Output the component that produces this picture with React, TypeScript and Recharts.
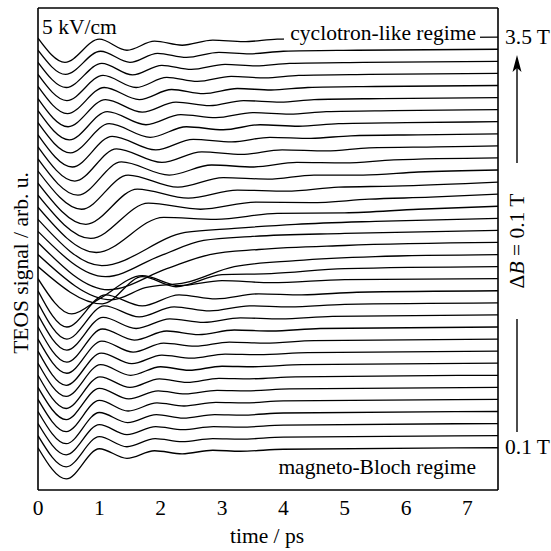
import React from "react";
import { LineChart, Line, XAxis, YAxis } from "recharts";

// magnetic field of each trace, bottom to top
const fieldsT = [
  0.1, 0.2, 0.3, 0.4, 0.5, 0.6, 0.7, 0.8, 0.9, 1.0, 1.1, 1.2, 1.3, 1.4, 1.5, 1.6, 1.7, 1.8,
  1.9, 2.0, 2.1, 2.2, 2.3, 2.4, 2.5, 2.6, 2.7, 2.8, 2.9, 3.0, 3.1, 3.2, 3.3, 3.4, 3.5,
];

const xTicks = [0, 1, 2, 3, 4, 5, 6, 7];

// vertical offset between neighbouring traces (arb. u.)
const offsetStep = 12;

// [time ps, signal], same order as fieldsT
const traces: [number, number][][] = [
  [[0, 0], [0.46, -31], [1.0, -1], [1.45, -10.5], [1.9, -3], [2.35, -6], [2.85, -2.5], [3.3, -3.5], [4, -1.5], [7.5, 0]],
  [[0, 0], [0.46, -31], [1.0, -1], [1.45, -11], [1.91, -3], [2.35, -6], [2.85, -3], [3.3, -3.5], [4, -1.5], [7.5, 0]],
  [[0, 0], [0.46, -31], [1.0, -1], [1.45, -11], [1.92, -3], [2.36, -6], [2.86, -3], [3.3, -3.5], [4, -1.5], [7.5, 0]],
  [[0, 0], [0.46, -32], [1.0, -1], [1.46, -11], [1.93, -3], [2.37, -6.5], [2.88, -3], [3.33, -3.5], [4, -1.5], [7.5, 0]],
  [[0, 0], [0.46, -32], [1.0, -1], [1.47, -11.5], [1.94, -3.5], [2.38, -6.5], [2.9, -3], [3.36, -3.5], [4, -1.5], [7.5, 0]],
  [[0, 0], [0.46, -32], [1.0, -1], [1.48, -11.5], [1.96, -3.5], [2.4, -6.5], [2.92, -3], [3.4, -3.5], [4.1, -1.5], [7.5, 0]],
  [[0, 0], [0.46, -33], [1.01, -1.5], [1.5, -12], [1.98, -3.5], [2.43, -7], [2.95, -3], [3.45, -3.5], [4.2, -1.5], [7.5, 0]],
  [[0, 0], [0.46, -33], [1.02, -1.5], [1.51, -12], [2.0, -3.5], [2.46, -7], [3.0, -3], [3.52, -3.5], [4.3, -1.5], [7.5, 0]],
  [[0, 0], [0.46, -34], [1.03, -2], [1.53, -12.5], [2.02, -4], [2.5, -7], [3.05, -3], [3.6, -3.5], [4.4, -1.5], [7.5, 0]],
  [[0, 0], [0.47, -34], [1.04, -2], [1.55, -13], [2.05, -4], [2.56, -7], [3.12, -3], [3.7, -4], [4.5, -1.5], [7.5, 0]],
  [[0, 0], [0.47, -35], [1.05, -2], [1.57, -13], [2.1, -4], [2.62, -7.5], [3.2, -3], [3.8, -4], [4.6, -1.5], [7.5, 0]],
  [[0, 0], [0.47, -35], [1.06, -2.5], [1.6, -13.5], [2.15, -4], [2.7, -7.5], [3.3, -3], [3.95, -4], [4.8, -1.5], [7.5, 0]],
  [[0, 0], [0.47, -36], [1.08, -3], [1.65, -14], [2.22, -4], [2.8, -8], [3.45, -3], [4.1, -4], [5, -1.5], [7.5, 0]],
  [[0, 0], [0.47, -36], [1.1, -4], [1.7, -15], [2.3, -4], [2.9, -8], [3.6, -3], [4.3, -4], [5.2, -1.5], [7.5, 0]],
  [[0, 0], [0.55, -35], [1.0, -20], [1.7, 3], [2.3, -7], [3.0, -2], [3.8, -4], [5, -1], [7.5, 0]],
  [[0, 0], [1.05, -37], [1.7, -10], [2.25, -20], [3.0, -8], [3.8, -7], [5, -2], [7.5, 0]],
  [[0, 0], [1.2, -45], [1.75, -33], [2.4, -28], [3.2, -12], [4.2, -6], [5.5, -2], [7.5, 0]],
  [[0, 0], [1.15, -47], [2.1, -26], [2.8, -12], [3.6, -7], [5, -3], [7.5, 0]],
  [[0, -1], [1.1, -46], [2.0, -25], [2.7, -10], [3.5, -6], [5, -3], [7.5, 0]],
  [[0, -1], [1.04, -47], [2.4, -14], [3.2, -10], [4.2, -6], [5.5, -3], [7.5, 0]],
  [[0, -1], [0.95, -46], [2.05, -11], [2.9, -13], [3.9, -7], [5.0, -6.5], [6.2, -3], [7.5, 0]],
  [[0, -1], [0.86, -44], [1.8, -9], [2.65, -15], [3.55, -8], [4.45, -8.5], [5.4, -5], [6.4, -3], [7.5, 0]],
  [[0, -1], [0.78, -42], [1.62, -7], [2.45, -16], [3.25, -8], [4.05, -9], [4.9, -5], [5.8, -4], [7.5, 0]],
  [[0, -1], [0.71, -39], [1.47, -5], [2.28, -17], [3.02, -7.5], [3.75, -9], [4.5, -5], [5.3, -5], [6.2, -2], [7.5, 0]],
  [[0, -1], [0.65, -37], [1.36, -4], [2.14, -17], [2.83, -7], [3.52, -9], [4.22, -4.5], [5.0, -5], [5.8, -2], [7.5, 0]],
  [[0, -1], [0.6, -35], [1.28, -3], [2.02, -16.5], [2.67, -6], [3.32, -8.5], [3.98, -4], [4.7, -5], [5.4, -2], [6.5, -1], [7.5, 0]],
  [[0, -1], [0.56, -33], [1.21, -2.5], [1.92, -16], [2.53, -5.5], [3.16, -8], [3.78, -3.5], [4.45, -4.5], [5.1, -2], [6.2, -1], [7.5, 0]],
  [[0, -1], [0.53, -31], [1.16, -2], [1.83, -15.5], [2.42, -5], [3.02, -8], [3.62, -3], [4.25, -4.5], [4.9, -2], [6.0, -1], [7.5, 0]],
  [[0, -1], [0.51, -30], [1.13, -2], [1.76, -15], [2.33, -5], [2.9, -8], [3.5, -3], [4.1, -4.5], [4.7, -2], [5.8, -1], [7.5, 0]],
  [[0, -1], [0.49, -29], [1.1, -2], [1.7, -14.5], [2.25, -4.5], [2.8, -8], [3.35, -3], [3.95, -4.5], [4.5, -2], [5.6, -1], [7.5, 0]],
  [[0, -1], [0.48, -28], [1.08, -2], [1.65, -14], [2.18, -4], [2.7, -8], [3.25, -3], [3.8, -4.5], [4.4, -2], [5.5, -1], [7.5, 0]],
  [[0, -1], [0.47, -27], [1.06, -2], [1.6, -14], [2.1, -4], [2.6, -8], [3.15, -3], [3.7, -4.5], [4.25, -2], [5.4, -1], [7.5, 0]],
  [[0, -1], [0.46, -26], [1.04, -2], [1.54, -13.5], [2.02, -4], [2.5, -8], [3.05, -3], [3.55, -4.5], [4.1, -2], [5.3, -1], [7.5, 0]],
  [[0, -1], [0.45, -25], [1.02, -2], [1.5, -13], [1.95, -4], [2.42, -8], [2.95, -3], [3.45, -4.5], [4.0, -2], [5.2, -1], [7.5, 0]],
  [[0, -1], [0.44, -25], [1.0, -2], [1.45, -13], [1.9, -4], [2.35, -8], [2.85, -3], [3.35, -4.5], [3.9, -2], [5.0, -1], [7.5, 0]],
];

const serif = "'Liberation Serif', 'Times New Roman', serif";
const fontSize = 21.5;

export default function App() {
  const series = fieldsT.map((b, i) => ({
    b,
    points: traces[i].map(([t, v]) => ({ t, v: v + i * offsetStep })),
  }));

  return (
    <div style={{ position: "absolute", left: 0, top: 0, width: 551, height: 551, background: "#fff" }}>
      <LineChart width={551} height={551} margin={{ top: 8, right: 53, bottom: 31, left: 38 }}>
        {/* tick labels */}
        <XAxis
          xAxisId="b"
          type="number"
          dataKey="t"
          domain={[0, 7.5]}
          ticks={xTicks}
          allowDataOverflow
          height={30}
          tickLine={false}
          tickSize={6}
          tickMargin={4}
          axisLine={{ stroke: "#000", strokeWidth: 1.6 }}
          tick={{ fontFamily: serif, fontSize, fill: "#000" }}
        />
        {/* inward tick marks, bottom and top */}
        <XAxis
          xAxisId="bm"
          type="number"
          domain={[0, 7.5]}
          ticks={xTicks}
          mirror
          tickSize={6}
          tickFormatter={() => ""}
          axisLine={false}
          tickLine={{ stroke: "#000", strokeWidth: 1.2 }}
        />
        <XAxis
          xAxisId="tm"
          orientation="top"
          type="number"
          domain={[0, 7.5]}
          ticks={xTicks}
          mirror
          tickSize={6}
          tickFormatter={() => ""}
          axisLine={{ stroke: "#000", strokeWidth: 1.6 }}
          tickLine={{ stroke: "#000", strokeWidth: 1.2 }}
        />
        <YAxis
          yAxisId="l"
          type="number"
          domain={[-42, 437]}
          allowDataOverflow
          mirror
          tick={false}
          tickLine={false}
          axisLine={{ stroke: "#000", strokeWidth: 1.6 }}
        />
        <YAxis
          yAxisId="r"
          orientation="right"
          type="number"
          domain={[-42, 437]}
          mirror
          tick={false}
          tickLine={false}
          axisLine={{ stroke: "#000", strokeWidth: 1.6 }}
        />
        {series.map((s) => (
          <Line
            key={s.b}
            xAxisId="b"
            yAxisId="l"
            data={s.points}
            dataKey="v"
            type="monotone"
            stroke="#000"
            strokeWidth={1.3}
            dot={false}
            activeDot={false}
            isAnimationActive={false}
          />
        ))}
      </LineChart>

      <svg
        width={551}
        height={551}
        style={{ position: "absolute", left: 0, top: 0, pointerEvents: "none", fontFamily: serif }}
        fontSize={fontSize}
        fill="#000"
      >
        <text x={42} y={34}>5 kV/cm</text>
        <rect x={284} y={22} width={196} height={24} fill="#fff" />
        <text x={476} y={39.5} textAnchor="end">cyclotron-like regime</text>
        <text x={476} y={474} textAnchor="end">magneto-Bloch regime</text>
        <text x={505} y={43.5}>3.5 T</text>
        <text x={505} y={454}>0.1 T</text>

        {/* field arrow */}
        <line x1={517} y1={432} x2={517} y2={68} stroke="#000" strokeWidth={1.4} />
        <polygon points="517,55 512.5,72 517,68 521.5,72" fill="#000" />
        <g transform="translate(524 241) rotate(-90)">
          <rect x={-78} y={-16} width={156} height={22} fill="#fff" />
          <text x={0} y={0} textAnchor="middle">
            Δ<tspan fontStyle="italic">B</tspan> = 0.1 T
          </text>
        </g>

        <g transform="translate(28 263) rotate(-90)">
          <text x={0} y={0} textAnchor="middle">TEOS signal / arb. u.</text>
        </g>
        <text x={267} y={543} textAnchor="middle">time / ps</text>
      </svg>
    </div>
  );
}
